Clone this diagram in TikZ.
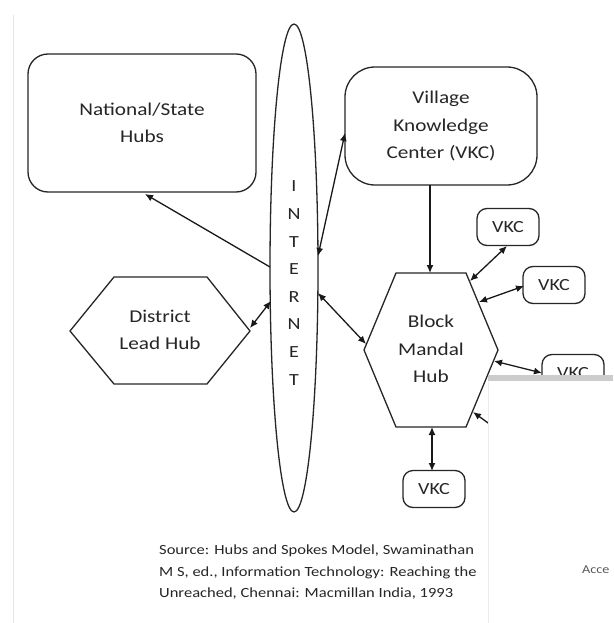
\documentclass[tikz,border=0pt]{standalone}
\usepackage{fontspec}
\setmainfont[FakeStretch=1.18]{Carlito}
\usetikzlibrary{arrows.meta,shapes.geometric}
\begin{document}
\begin{tikzpicture}[x=1pt,y=-1pt,
  box/.style={draw=black!85, rounded corners=#1, line width=1.3pt, fill=white},
  lbl/.style={font=\fontsize{18}{27.5}\selectfont, align=center, text=black!85},
  hexline/.style={draw=black!85, line width=1.3pt},
  conn/.style={line width=1.3pt, draw=black!90},
  one/.style={conn, -{Latex[length=8pt,width=7pt]}},
  two/.style={conn, {Latex[length=8pt,width=7pt]}-{Latex[length=8pt,width=7pt]}}
]
\useasboundingbox (0,0) rectangle (613,623);
\fill[white] (0,0) rectangle (613,623);
\draw[draw=gray!20, line width=0.8pt] (13,15) -- (13,623);

% boxes
\node[box=20, minimum width=228pt, minimum height=138pt, lbl] (nat) at (142,123) {National/State\\Hubs};
\node[draw=black!85, line width=1.3pt, ellipse, minimum width=48pt, minimum height=488pt] (inet) at (294,268) {};
\node[font=\fontsize{17}{27.6}\selectfont, align=center, text=black!85] (inettxt) at (294,283) {I\\N\\T\\E\\R\\N\\E\\T};
\node[box=30, minimum width=192pt, minimum height=118pt, lbl] (vkc) at (441,126) {Village\\Knowledge\\Center (VKC)};

% hexagons
\draw[hexline] (396,273) -- (466,273) -- (498,350) -- (466,427) -- (396,427) -- (364,350) -- cycle;
\node[lbl] (bmh) at (431,349) {Block\\Mandal\\Hub};
\draw[hexline] (114,277) -- (207,277) -- (250,331) -- (207,384) -- (114,384) -- (70,331) -- cycle;
\node[lbl] (dlh) at (160,330) {District\\Lead Hub};

% small VKC boxes
\tikzset{small/.style={box=10, minimum width=62pt, minimum height=37pt, font=\fontsize{17}{20}\selectfont, text=black!85}}
\node[small] (v1) at (508,227) {VKC};
\node[small] (v2) at (554,285) {VKC};
\node[small] (v3) at (573,373) {VKC};
\node[small] (v4) at (434,489) {VKC};

% connector end points
\coordinate (iL1) at (270,267);
\coordinate (natS) at (145,194);
\coordinate (iL2) at (271,301);
\coordinate (dR) at (250,328);
\coordinate (iR1) at (318,256);
\coordinate (vL) at (345,133);
\coordinate (iR2) at (318,293);
\coordinate (hUL) at (366,344);
\coordinate (vS) at (430,185);
\coordinate (hT) at (430,273);
\coordinate (v1e) at (507,246);
\coordinate (h1) at (470,281);
\coordinate (v2e) at (524,286);
\coordinate (h2) at (479,302);
\coordinate (v3e) at (542,373);
\coordinate (h3) at (494,361);
\coordinate (hid) at (495,428);
\coordinate (h4) at (473,412);
\coordinate (hB) at (432,427);
\coordinate (v4n) at (432,471);

\draw[one] (iL1) -- (natS);
\draw[two] (dR) -- (iL2);
\draw[two] (iR1) -- (vL);
\draw[two] (iR2) -- (hUL);
\draw[one] (vS) -- (hT);
\draw[two] (v1e) -- (h1);
\draw[two] (v2e) -- (h2);
\draw[two] (v3e) -- (h3);
\draw[one] (hid) -- (h4);
\draw[two] (hB) -- (v4n);

% source text
\node[anchor=north west, align=left, font=\fontsize{14}{21.5}\selectfont, text=black!85, inner sep=0pt] (src) at (159,545)
 {Source: Hubs and Spokes Model, Swaminathan\\M S, ed., Information Technology: Reaching the\\Unreached, Chennai: Macmillan India, 1993};

% overlapping window
\fill[white] (488,375) rectangle (613,623);
\fill[gray!40] (488,375) rectangle (613,381);
\draw[gray!15, line width=0.8pt] (488,381) -- (488,623);
\node[anchor=west, font=\fontsize{12}{14}\selectfont, text=black!65, inner sep=0pt] (acc) at (582,570) {Acce};
\end{tikzpicture}
\end{document}
